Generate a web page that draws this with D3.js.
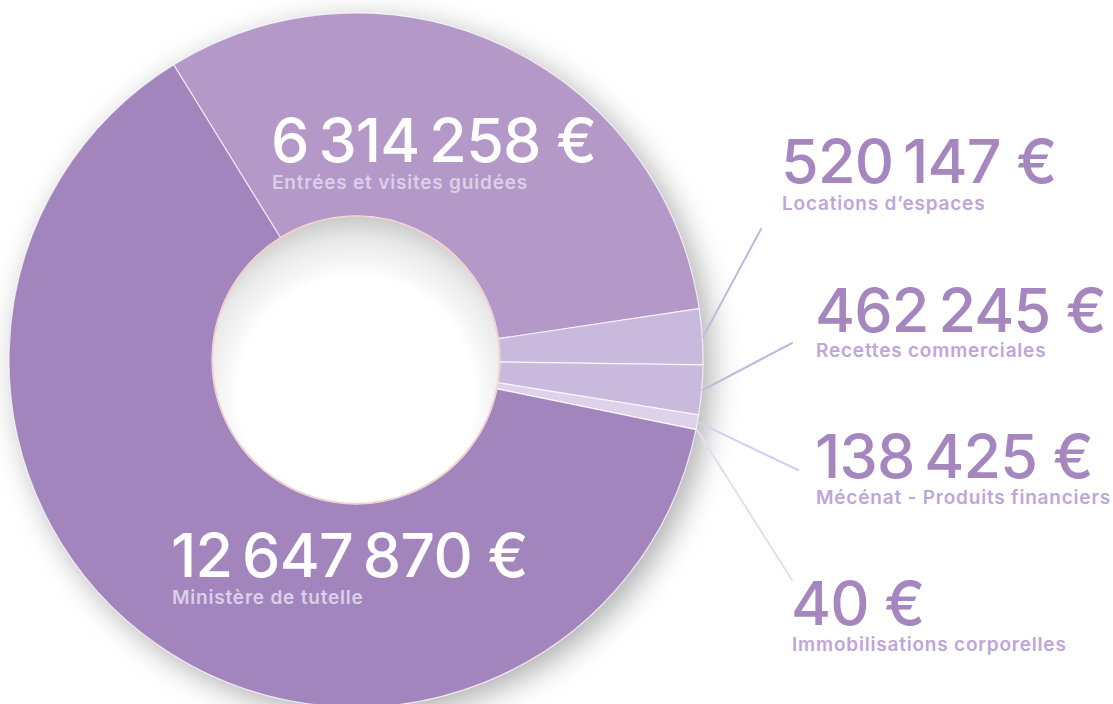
<!DOCTYPE html>
<html lang="fr">
<head>
<meta charset="utf-8">
<script src="https://cdn.jsdelivr.net/npm/d3@7"></script>
<style>
  html, body { margin: 0; padding: 0; background: #ffffff; }
  svg { display: block; }
  .num { font-family: "Inter", "Liberation Sans", sans-serif; font-weight: 500; letter-spacing: -0.8px; }
  .lab { font-family: "Inter", "Liberation Sans", sans-serif; font-weight: 600; letter-spacing: 0.8px; }
</style>
</head>
<body>
<svg id="chart" width="1113" height="704"></svg>
<script>
// Budget revenue breakdown (euros)
const categories = [
  "Entrées et visites guidées",
  "Locations d’espaces",
  "Recettes commerciales",
  "Mécénat - Produits financiers",
  "Immobilisations corporelles",
  "Ministère de tutelle"
];
const values = [6314258, 520147, 462245, 138425, 40, 12647870];
const valueLabels = ["6 314 258 €", "520 147 €", "462 245 €", "138 425 €", "40 €", "12 647 870 €"];
const sliceColors = ["#b398c8", "#c9b9dc", "#c9b9dc", "#ddd2ea", "#e6def0", "#a385bd"];

const W = 1113, H = 704;
const cx = 356, cy = 360, R = 347, r = 144;
const startDeg = -31.7;

const svg = d3.select("#chart");
const defs = svg.append("defs");

const shadow = defs.append("filter").attr("id", "ringShadow")
  .attr("x", "-25%").attr("y", "-25%").attr("width", "150%").attr("height", "150%");
shadow.append("feDropShadow")
  .attr("dx", 8).attr("dy", 8).attr("stdDeviation", 15)
  .attr("flood-color", "#000").attr("flood-opacity", 0.32);

const holeGrad = defs.append("radialGradient").attr("id", "holeGrad")
  .attr("cx", "50%").attr("cy", "62%").attr("r", "64%");
holeGrad.append("stop").attr("offset", "0%").attr("stop-color", "#ffffff");
holeGrad.append("stop").attr("offset", "64%").attr("stop-color", "#ffffff");
holeGrad.append("stop").attr("offset", "85%").attr("stop-color", "#e8e8e8");
holeGrad.append("stop").attr("offset", "100%").attr("stop-color", "#c2c2c2");

const pie = d3.pie().sort(null).value(d => d)
  .startAngle(startDeg * Math.PI / 180)
  .endAngle(startDeg * Math.PI / 180 + 2 * Math.PI);
const arcs = pie(values);
const arc = d3.arc().innerRadius(r).outerRadius(R);

const g = svg.append("g").attr("transform", `translate(${cx},${cy})`);

// Soft drop shadow under the ring
g.append("circle").attr("r", R).attr("fill", "#a385bd").attr("filter", "url(#ringShadow)");

g.selectAll("path.slice").data(arcs).join("path")
  .attr("class", "slice")
  .attr("d", arc)
  .attr("fill", (d, i) => sliceColors[i])
  .attr("stroke", "rgba(255,255,255,0.75)")
  .attr("stroke-width", 1.2)
  .attr("stroke-linejoin", "round");

// Hole with inner shading
g.append("circle").attr("r", r - 0.5)
  .attr("fill", "url(#holeGrad)")
  .attr("stroke", "#f6cfbf").attr("stroke-width", 1.2);

// Leader lines for the small slices (label anchors in page coordinates)
const leaders = [
  { i: 1, x: 761, y: 229, color: "#c7b4de" },
  { i: 2, x: 792, y: 343, color: "#c7b4de" },
  { i: 3, x: 798, y: 470, color: "#d9cdea" },
  { i: 4, x: 792, y: 580, color: "#e5ddf1" }
];
leaders.forEach(l => {
  const a = (arcs[l.i].startAngle + arcs[l.i].endAngle) / 2;
  const x0 = cx + (R + 1) * Math.sin(a), y0 = cy - (R + 1) * Math.cos(a);
  svg.append("line")
    .attr("x1", x0).attr("y1", y0).attr("x2", l.x).attr("y2", l.y)
    .attr("stroke", l.color).attr("stroke-width", 2).attr("stroke-linecap", "round");
});

// Labels
const labels = [
  { i: 0, x: 271, y: 162, ly: 189, num: "#ffffff", lab: "#dccfea" },
  { i: 5, x: 171, y: 577, ly: 604, num: "#ffffff", lab: "#dccfea" },
  { i: 1, x: 781, y: 183, ly: 210, num: "#a586bf", lab: "#bea6d6" },
  { i: 2, x: 815, y: 332, ly: 357, num: "#a586bf", lab: "#bea6d6" },
  { i: 3, x: 815, y: 478, ly: 504, num: "#a586bf", lab: "#bea6d6" },
  { i: 4, x: 791, y: 625, ly: 651, num: "#a586bf", lab: "#bea6d6" }
];
labels.forEach(l => {
  svg.append("text").attr("class", "num")
    .attr("x", l.x).attr("y", l.y)
    .attr("font-size", 61).attr("fill", l.num)
    .text(valueLabels[l.i].replace(/ (?=\d)/g, "\u2009"));
  svg.append("text").attr("class", "lab")
    .attr("x", l.x + 1).attr("y", l.ly)
    .attr("font-size", 19).attr("fill", l.lab)
    .text(categories[l.i]);
});
</script>
</body>
</html>
